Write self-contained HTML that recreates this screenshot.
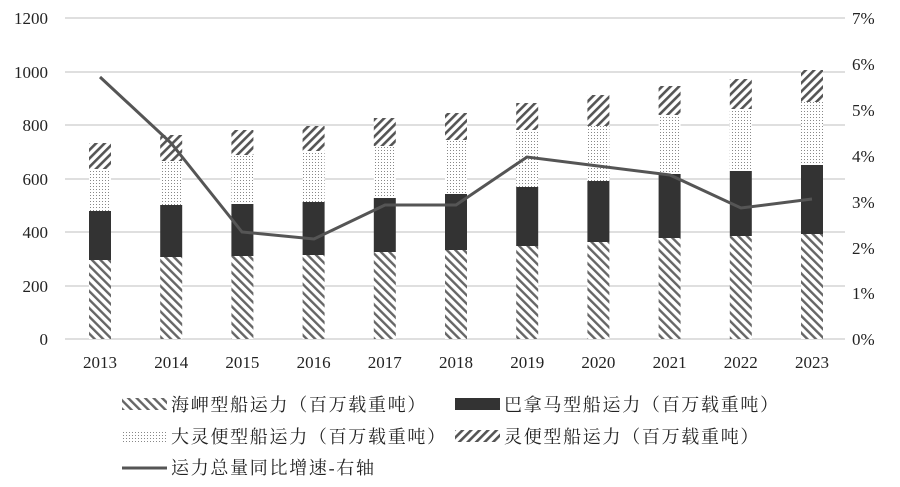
<!DOCTYPE html>
<html><head><meta charset="utf-8"><style>
html,body{margin:0;padding:0;background:#fff;}
svg{display:block;}
text{font-family:"Liberation Serif","Noto Serif CJK SC",serif;fill:#222;}
</style></head><body>
<svg width="900" height="487" viewBox="0 0 900 487" xmlns="http://www.w3.org/2000/svg">
<defs>
<pattern id="hb" patternUnits="userSpaceOnUse" width="6" height="6" patternTransform="rotate(-45)">
<rect width="6" height="6" fill="#fff"/><rect width="2.4" height="6" fill="#666"/></pattern>
<pattern id="hf" patternUnits="userSpaceOnUse" width="6" height="6" patternTransform="rotate(45)">
<rect width="6" height="6" fill="#fff"/><rect width="2.6" height="6" fill="#555"/></pattern>
<pattern id="dt" patternUnits="userSpaceOnUse" width="3" height="3">
<rect width="3" height="3" fill="#fff"/><rect width="1" height="1" fill="#888"/></pattern>
</defs>
<g stroke="#ccc" stroke-width="1.2">
<line x1="65" x2="845" y1="18" y2="18"/><line x1="65" x2="845" y1="72" y2="72"/>
<line x1="65" x2="845" y1="125" y2="125"/><line x1="65" x2="845" y1="179" y2="179"/>
<line x1="65" x2="845" y1="232" y2="232"/><line x1="65" x2="845" y1="286" y2="286"/>
<line x1="65" x2="845" y1="339" y2="339"/>
</g>
<g font-size="17" text-anchor="end">
<text x="48" y="24">1200</text><text x="48" y="78">1000</text><text x="48" y="131">800</text>
<text x="48" y="185">600</text><text x="48" y="238">400</text><text x="48" y="292">200</text><text x="48" y="345">0</text>
</g>
<g font-size="17" text-anchor="start">
<text x="852" y="24">7%</text><text x="852" y="70">6%</text><text x="852" y="116">5%</text>
<text x="852" y="162">4%</text><text x="852" y="208">3%</text><text x="852" y="254">2%</text>
<text x="852" y="299">1%</text><text x="852" y="345">0%</text>
</g>
<g>
<rect x="89" y="260" width="22" height="79" fill="url(#hb)"/><rect x="89" y="211" width="22" height="49" fill="#333"/><rect x="89" y="169" width="22" height="42" fill="url(#dt)"/><rect x="89" y="143" width="22" height="26" fill="url(#hf)"/>
<rect x="160.2" y="257" width="22" height="82" fill="url(#hb)"/><rect x="160.2" y="205" width="22" height="52" fill="#333"/><rect x="160.2" y="161" width="22" height="44" fill="url(#dt)"/><rect x="160.2" y="135" width="22" height="26" fill="url(#hf)"/>
<rect x="231.4" y="256" width="22" height="83" fill="url(#hb)"/><rect x="231.4" y="204" width="22" height="52" fill="#333"/><rect x="231.4" y="155" width="22" height="49" fill="url(#dt)"/><rect x="231.4" y="130" width="22" height="25" fill="url(#hf)"/>
<rect x="302.6" y="255" width="22" height="84" fill="url(#hb)"/><rect x="302.6" y="202" width="22" height="53" fill="#333"/><rect x="302.6" y="151" width="22" height="51" fill="url(#dt)"/><rect x="302.6" y="126" width="22" height="25" fill="url(#hf)"/>
<rect x="373.8" y="252" width="22" height="87" fill="url(#hb)"/><rect x="373.8" y="198" width="22" height="54" fill="#333"/><rect x="373.8" y="146" width="22" height="52" fill="url(#dt)"/><rect x="373.8" y="118" width="22" height="28" fill="url(#hf)"/>
<rect x="445" y="250" width="22" height="89" fill="url(#hb)"/><rect x="445" y="194" width="22" height="56" fill="#333"/><rect x="445" y="140" width="22" height="54" fill="url(#dt)"/><rect x="445" y="113" width="22" height="27" fill="url(#hf)"/>
<rect x="516.2" y="246" width="22" height="93" fill="url(#hb)"/><rect x="516.2" y="187" width="22" height="59" fill="#333"/><rect x="516.2" y="130" width="22" height="57" fill="url(#dt)"/><rect x="516.2" y="103" width="22" height="27" fill="url(#hf)"/>
<rect x="587.4" y="242" width="22" height="97" fill="url(#hb)"/><rect x="587.4" y="181" width="22" height="61" fill="#333"/><rect x="587.4" y="126" width="22" height="55" fill="url(#dt)"/><rect x="587.4" y="95" width="22" height="31" fill="url(#hf)"/>
<rect x="658.6" y="238" width="22" height="101" fill="url(#hb)"/><rect x="658.6" y="174" width="22" height="64" fill="#333"/><rect x="658.6" y="115" width="22" height="59" fill="url(#dt)"/><rect x="658.6" y="86" width="22" height="29" fill="url(#hf)"/>
<rect x="729.8" y="236" width="22" height="103" fill="url(#hb)"/><rect x="729.8" y="171" width="22" height="65" fill="#333"/><rect x="729.8" y="109" width="22" height="62" fill="url(#dt)"/><rect x="729.8" y="79" width="22" height="30" fill="url(#hf)"/>
<rect x="801" y="234" width="22" height="105" fill="url(#hb)"/><rect x="801" y="165" width="22" height="69" fill="#333"/><rect x="801" y="102" width="22" height="63" fill="url(#dt)"/><rect x="801" y="70" width="22" height="32" fill="url(#hf)"/>
</g>
<polyline fill="none" stroke="#555" stroke-width="3" points="100,77 171,143 242,232 314,239 385,205 456,205 527,157 598,166 670,175 741,208 812,199"/>
<g font-size="17" text-anchor="middle">
<text x="100" y="368">2013</text><text x="171.2" y="368">2014</text><text x="242.4" y="368">2015</text><text x="313.6" y="368">2016</text><text x="384.8" y="368">2017</text><text x="456" y="368">2018</text><text x="527.2" y="368">2019</text><text x="598.4" y="368">2020</text><text x="669.6" y="368">2021</text><text x="740.8" y="368">2022</text><text x="812" y="368">2023</text>
</g>
<g font-size="18" letter-spacing="1.7">
<rect x="122" y="398" width="45" height="12" fill="url(#hb)"/>
<text x="171" y="411">海岬型船运力（百万载重吨）</text>
<rect x="455" y="398" width="45" height="12" fill="#333"/>
<text x="504" y="411">巴拿马型船运力（百万载重吨）</text>
<rect x="122" y="430" width="45" height="12" fill="url(#dt)"/>
<text x="171" y="443">大灵便型船运力（百万载重吨）</text>
<rect x="455" y="430" width="45" height="12" fill="url(#hf)"/>
<text x="504" y="443">灵便型船运力（百万载重吨）</text>
<line x1="122" x2="167" y1="468" y2="468" stroke="#555" stroke-width="3"/>
<text x="171" y="474">运力总量同比增速-右轴</text>
</g>
</svg>
</body></html>
